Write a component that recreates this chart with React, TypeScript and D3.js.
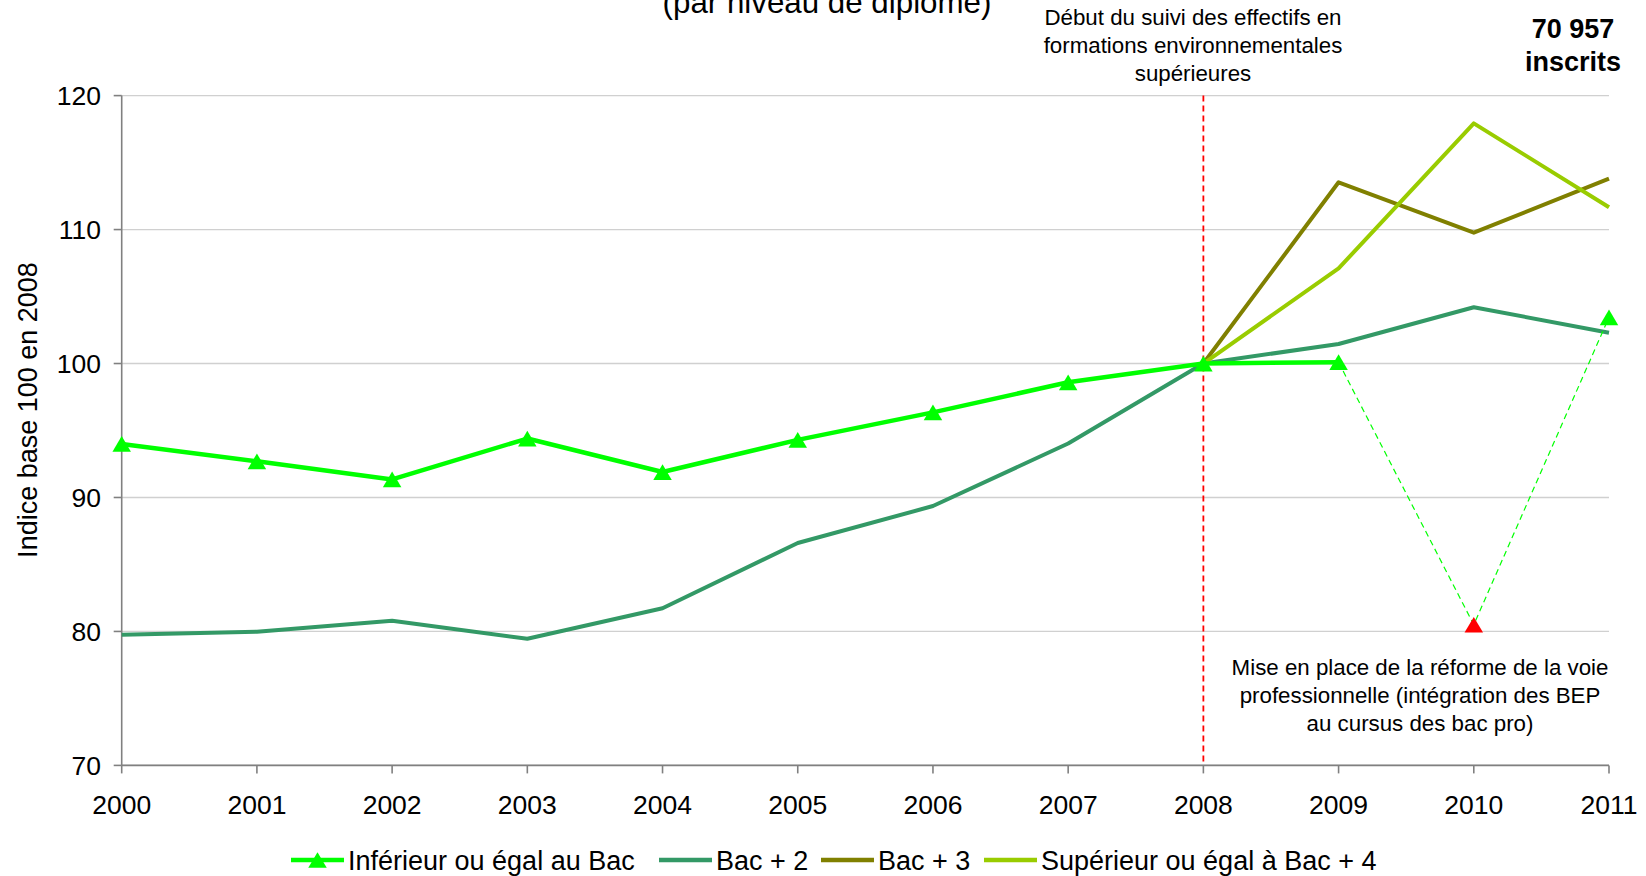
import React from "react";
import * as d3 from "d3";

const years = [2000, 2001, 2002, 2003, 2004, 2005, 2006, 2007, 2008, 2009, 2010, 2011];
const yTicks = [70, 80, 90, 100, 110, 120];

const inferieurBac: (number | null)[] = [94.0, 92.7, 91.35, 94.4, 91.9, 94.3, 96.35, 98.6, 100, 100.1, null, 103.45];
const bac2: (number | null)[] = [79.75, 79.98, 80.8, 79.45, 81.73, 86.6, 89.36, 94.03, 100, 101.46, 104.2, 102.3];
const bac3: (number | null)[] = [null, null, null, null, null, null, null, null, 100, 113.53, 109.77, 113.8];
const bac4: (number | null)[] = [null, null, null, null, null, null, null, null, 100, 107.1, 117.93, 111.66];

// reform break: 2009 -> 2010 (red marker) -> 2011
const reformeYears = [2009, 2010, 2011];
const reformeValues = [100.1, 80.5, 103.45];

const legendItems = [
  { label: "Inférieur ou égal au Bac", color: "#00FF00", marker: true },
  { label: "Bac + 2", color: "#339966", marker: false },
  { label: "Bac + 3", color: "#808000", marker: false },
  { label: "Supérieur ou égal à Bac + 4", color: "#99CC00", marker: false },
];

const W = 1646;
const H = 876;
const FONT = "'Liberation Sans', Arial, sans-serif";

export default function App() {
  const x = d3.scaleLinear().domain([2000, 2011]).range([121.7, 1609]);
  const y = d3.scaleLinear().domain([70, 120]).range([765.4, 95.6]);

  const line = d3
    .line<[number, number | null]>()
    .defined((d) => d[1] !== null)
    .x((d) => x(d[0]))
    .y((d) => y(d[1] as number));

  const pairs = (vals: (number | null)[]) => years.map((yr, i) => [yr, vals[i]] as [number, number | null]);

  // solid part of the "inférieur" line: only up to 2009
  const infSolid = pairs(inferieurBac).map((p) => (p[0] > 2009 ? ([p[0], null] as [number, number | null]) : p));

  const tri = (cx: number, cy: number, s = 18.5) => {
    const h = s * 0.85;
    return `M${cx},${cy - h / 2}L${cx + s / 2},${cy + h / 2}L${cx - s / 2},${cy + h / 2}Z`;
  };

  const series = [
    { vals: bac2, color: "#339966" },
    { vals: bac3, color: "#808000" },
    { vals: bac4, color: "#99CC00" },
  ];

  const legendX = [291, 659, 821, 984];
  const legendY = 860;

  return (
    <svg
      width={W}
      height={H}
      style={{ position: "absolute", left: 0, top: 0, background: "#fff" }}
      fontFamily={FONT}
    >
      <rect x={0} y={0} width={W} height={H} fill="#fff" />
      {/* title (cut off at top, as in the source) */}
      <text x={827} y={12.5} fontSize={31.3} textAnchor="middle" fill="#000">
        (par niveau de diplôme)
      </text>

      {/* gridlines */}
      {yTicks.map((t) => (
        <line key={"g" + t} x1={x(2000)} x2={x(2011)} y1={y(t)} y2={y(t)} stroke="#D0D0D0" strokeWidth={1.3} />
      ))}

      {/* y axis */}
      <line x1={x(2000)} x2={x(2000)} y1={y(120)} y2={y(70)} stroke="#808080" strokeWidth={1.6} />
      {yTicks.map((t) => (
        <g key={"yt" + t}>
          <line x1={x(2000) - 8} x2={x(2000)} y1={y(t)} y2={y(t)} stroke="#808080" strokeWidth={1.6} />
          <text x={101} y={y(t) + 9.5} fontSize={26.5} textAnchor="end" fill="#000">
            {t}
          </text>
        </g>
      ))}

      {/* x axis */}
      <line x1={x(2000)} x2={x(2011)} y1={y(70)} y2={y(70)} stroke="#808080" strokeWidth={1.6} />
      {years.map((yr) => (
        <g key={"xt" + yr}>
          <line x1={x(yr)} x2={x(yr)} y1={y(70)} y2={y(70) + 8} stroke="#808080" strokeWidth={1.6} />
          <text x={x(yr)} y={814} fontSize={26.5} textAnchor="middle" fill="#000">
            {yr}
          </text>
        </g>
      ))}

      {/* y axis title */}
      <text
        transform={`translate(37,410) rotate(-90)`}
        fontSize={27}
        textAnchor="middle"
        fill="#000"
      >
        Indice base 100 en 2008
      </text>

      {/* red dashed vertical line at 2008 */}
      <line
        x1={x(2008)}
        x2={x(2008)}
        y1={y(120)}
        y2={y(70)}
        stroke="#FF0000"
        strokeWidth={1.8}
        strokeDasharray="6,4"
      />

      {/* series lines */}
      {series.map((s, i) => (
        <path key={"s" + i} d={line(pairs(s.vals)) || ""} fill="none" stroke={s.color} strokeWidth={4} strokeLinejoin="round" />
      ))}

      {/* reform dashed line */}
      <path
        d={
          line(reformeYears.map((yr, i) => [yr, reformeValues[i]] as [number, number | null])) || ""
        }
        fill="none"
        stroke="#00FF00"
        strokeWidth={1.2}
        strokeDasharray="6,4"
      />

      {/* inférieur ou égal au bac */}
      <path d={line(infSolid) || ""} fill="none" stroke="#00FF00" strokeWidth={4.5} strokeLinejoin="round" />
      {years.map((yr, i) =>
        inferieurBac[i] !== null ? (
          <path key={"m" + yr} d={tri(x(yr), y(inferieurBac[i] as number))} fill="#00FF00" />
        ) : null
      )}
      <path d={tri(x(2010), y(reformeValues[1]))} fill="#FF0000" />

      {/* annotations */}
      <text fontSize={22.3} textAnchor="middle" fill="#000">
        <tspan x={1193} y={25}>Début du suivi des effectifs en</tspan>
        <tspan x={1193} y={53}>formations environnementales</tspan>
        <tspan x={1193} y={81}>supérieures</tspan>
      </text>
      <text fontSize={27} fontWeight="bold" textAnchor="middle" fill="#000">
        <tspan x={1573} y={38}>70 957</tspan>
        <tspan x={1573} y={71}>inscrits</tspan>
      </text>
      <text fontSize={22.3} textAnchor="middle" fill="#000">
        <tspan x={1420} y={675}>Mise en place de la réforme de la voie</tspan>
        <tspan x={1420} y={703}>professionnelle (intégration des BEP</tspan>
        <tspan x={1420} y={731}>au cursus des bac pro)</tspan>
      </text>

      {/* legend */}
      {legendItems.map((it, i) => (
        <g key={"l" + i}>
          <line x1={legendX[i]} x2={legendX[i] + 53} y1={legendY} y2={legendY} stroke={it.color} strokeWidth={4.5} />
          {it.marker ? <path d={tri(legendX[i] + 26.5, legendY)} fill={it.color} /> : null}
          <text x={legendX[i] + 57} y={870} fontSize={27} fill="#000">
            {it.label}
          </text>
        </g>
      ))}
    </svg>
  );
}
